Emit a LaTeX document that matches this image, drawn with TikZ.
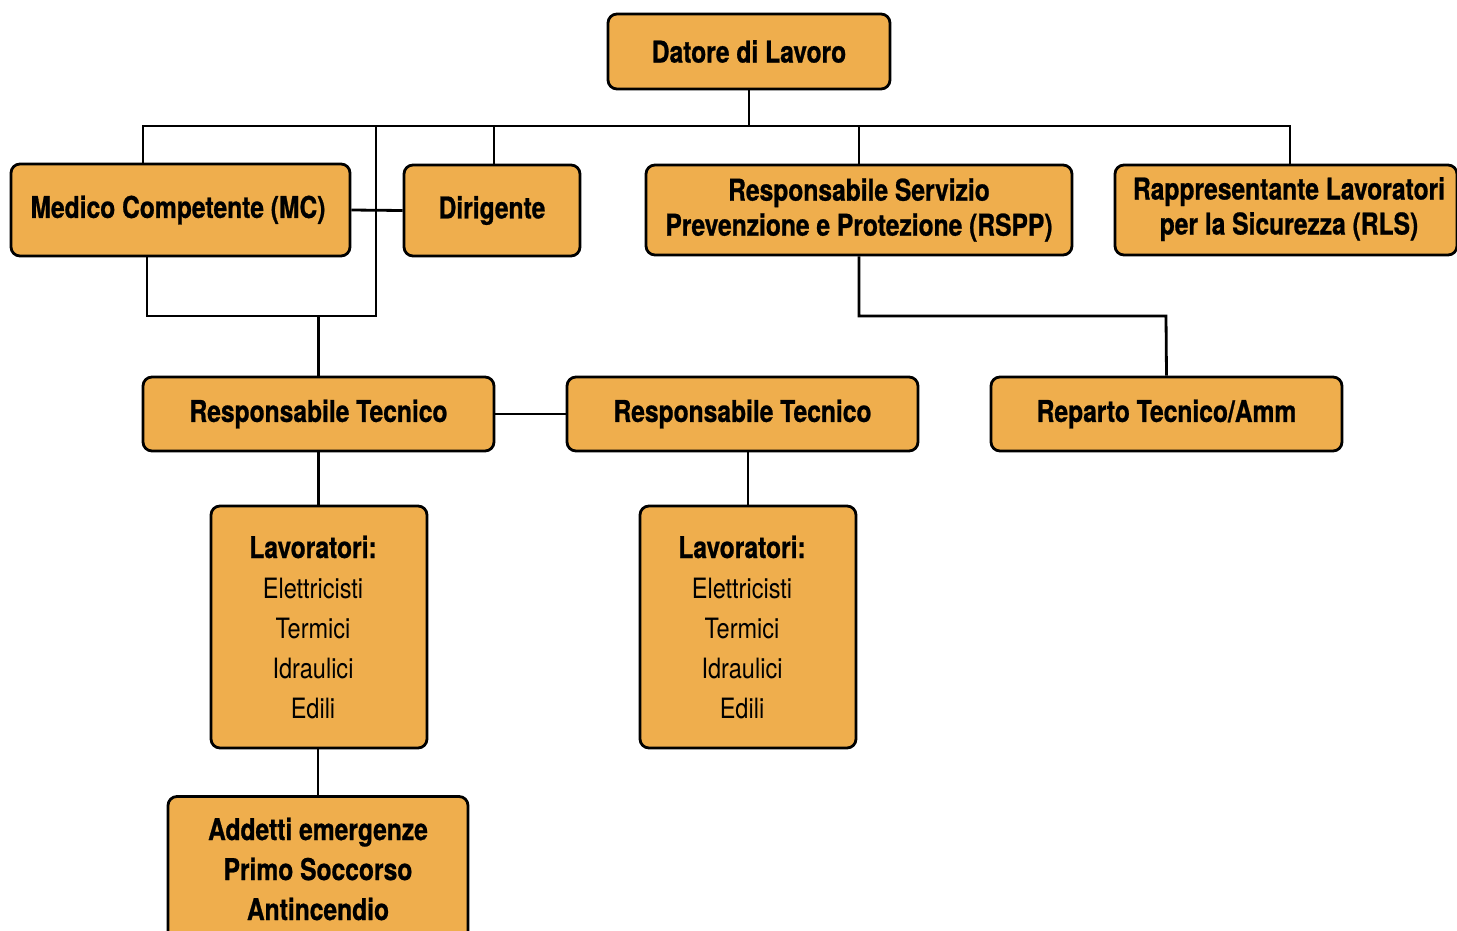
\documentclass[tikz,border=0pt]{standalone}
\usepackage{fontspec}
\setmainfont{TeX Gyre Heros}[FakeStretch=0.84]
\newfontfamily\heavy{texgyreheros-bold.otf}[FakeStretch=0.82, FakeBold=0.8]
\definecolor{boxfill}{RGB}{239,174,77}
\tikzset{
  orgbox/.style={draw=black, line width=2.8pt, rounded corners=9pt, fill=boxfill, align=center,
    inner sep=0pt, font=\fontsize{30}{35}\selectfont\heavy},
  lavbox/.style={orgbox, minimum width=216, minimum height=242, align=none, font=\fontsize{28}{40}\selectfont},
  link/.style={draw=black, line width=2.8pt}
}
\newcommand{\lavtext}{\raisebox{-3pt}[\height][\depth]{\begin{tabular}{@{}c@{}}{\fontsize{30}{40}\selectfont\heavy Lavoratori:}\\Elettricisti\\Termici\\Idraulici\\Edili\end{tabular}}\hspace*{12pt}}
\begin{document}
\begin{tikzpicture}[x=1pt,y=-1pt]
\useasboundingbox (0,0) rectangle (1457,930);
\node[orgbox, minimum width=282, minimum height=75] (datore) at (749,51.5) {Datore di Lavoro};
\node[orgbox, minimum width=339, minimum height=92] (mc) at (180.5,210) {Medico Competente (MC)\hspace*{5pt}};
\node[orgbox, minimum width=176, minimum height=91] (dir) at (492,210.5) {Dirigente};
\node[orgbox, minimum width=426, minimum height=90] (rspp) at (859,210) {Responsabile Servizio\\Prevenzione e Protezione (RSPP)};
\node[orgbox, minimum width=342, minimum height=90] (rls) at (1286,210) {\hspace*{6pt}\begin{tabular}{@{}c@{}}Rappresentante Lavoratori\\per la Sicurezza (RLS)\end{tabular}};
\node[orgbox, minimum width=351, minimum height=74] (rt1) at (318.5,414) {Responsabile Tecnico};
\node[orgbox, minimum width=351, minimum height=74] (rt2) at (742.5,414) {Responsabile Tecnico};
\node[orgbox, minimum width=351, minimum height=74] (rep) at (1166.5,414) {Reparto Tecnico/Amm};
\node[lavbox] (lav1) at (319,627) {\lavtext};
\node[lavbox] (lav2) at (748,627) {\lavtext};
\node[orgbox, minimum width=300, minimum height=145, font=\fontsize{30}{40}\selectfont\heavy] (add) at (318,869)
  {Addetti emergenze\\Primo Soccorso\\Antincendio};
\coordinate (busL) at (143,126);
\coordinate (busR) at (1290,126);
\coordinate (v) at (376,126);
\coordinate (j1) at (376,316);
\coordinate (j2) at (147,316);
\coordinate (j3) at (1166,316);
\draw[link] (mc.north -| busL) -- (busL) -- (busR) -- (rls.north -| busR);
\draw[link] (datore.south) -- (datore.south |- busL);
\draw[link] (dir.north -| 494,0) -- (busL -| 494,0);
\draw[link] (rspp.north) -- (rspp.north |- busL);
\draw[link] (v) -- (j1) -- (j2) -- (mc.south -| j2);
\draw[link] (mc.east) -- (dir.west);
\draw[link] (rt1.north) -- (rt1.north |- j1);
\draw[link] (rspp.south) |- (j3) -- (rep.north);
\draw[link] (rt1.east) -- (rt2.west);
\draw[link] (rt1.south) -- (lav1.north -| rt1.south);
\draw[link] (lav2.north) -- (lav2.north |- rt2.south);
\draw[link] (lav1.south -| add.north) -- (add.north);
\end{tikzpicture}
\end{document}
